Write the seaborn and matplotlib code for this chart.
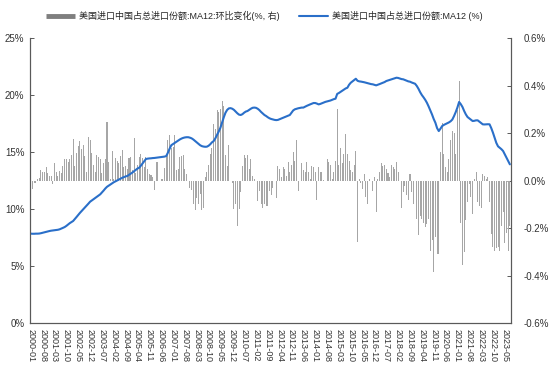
import numpy as np
import pandas as pd
import matplotlib
matplotlib.use('Agg')
import matplotlib.pyplot as plt
from matplotlib.lines import Line2D
import seaborn as sns

# monthly, 2000-01 .. 2023-08
months = pd.date_range('2000-01-01', periods=284, freq='MS').strftime('%Y-%m').tolist()

# China share of US imports, MA12 (%), left axis
share_ma12 = [
    7.84, 7.83, 7.83, 7.84, 7.84, 7.85, 7.88, 7.92, 7.96, 8.00, 8.03, 8.07,
    8.10, 8.12, 8.14, 8.16, 8.18, 8.22, 8.28, 8.35, 8.42, 8.52, 8.64, 8.76,
    8.86, 8.95, 9.12, 9.30, 9.48, 9.66, 9.82, 9.97, 10.14, 10.30, 10.47, 10.64,
    10.75, 10.86, 10.97, 11.08, 11.18, 11.29, 11.45, 11.62, 11.80, 11.95, 12.05, 12.15,
    12.25, 12.35, 12.43, 12.50, 12.58, 12.66, 12.74, 12.80, 12.86, 12.90, 13.00, 13.10,
    13.20, 13.32, 13.45, 13.55, 13.62, 13.80, 14.00, 14.20, 14.39, 14.42, 14.44, 14.45,
    14.47, 14.48, 14.50, 14.52, 14.54, 14.56, 14.58, 14.60, 14.65, 14.95, 15.30, 15.60,
    15.70, 15.80, 15.90, 16.00, 16.10, 16.18, 16.24, 16.28, 16.30, 16.30, 16.26, 16.20,
    16.10, 15.98, 15.85, 15.72, 15.60, 15.52, 15.48, 15.46, 15.47, 15.55, 15.68, 15.85,
    15.96, 16.20, 16.50, 16.80, 17.13, 17.60, 18.05, 18.45, 18.70, 18.83, 18.85, 18.80,
    18.70, 18.55, 18.40, 18.28, 18.25, 18.32, 18.45, 18.55, 18.60, 18.70, 18.80, 18.88,
    18.90, 18.88, 18.80, 18.68, 18.52, 18.38, 18.25, 18.16, 18.05, 17.96, 17.90, 17.86,
    17.82, 17.80, 17.82, 17.88, 17.94, 18.00, 18.06, 18.12, 18.18, 18.25, 18.45, 18.65,
    18.75, 18.80, 18.84, 18.87, 18.90, 18.90, 18.98, 19.05, 19.12, 19.18, 19.24, 19.30,
    19.30, 19.25, 19.18, 19.22, 19.28, 19.34, 19.40, 19.44, 19.47, 19.52, 19.58, 19.64,
    19.68, 20.10, 20.18, 20.28, 20.38, 20.48, 20.58, 20.64, 20.90, 21.08, 21.20, 21.32,
    21.43, 21.25, 21.20, 21.18, 21.15, 21.12, 21.08, 21.05, 21.00, 20.96, 20.94, 20.90,
    20.85, 20.90, 20.96, 21.02, 21.08, 21.14, 21.23, 21.28, 21.33, 21.38, 21.43, 21.48,
    21.52, 21.50, 21.45, 21.40, 21.38, 21.32, 21.26, 21.20, 21.17, 21.10, 21.05, 20.99,
    20.80, 20.55, 20.25, 20.00, 19.80, 19.58, 19.32, 19.00, 18.65, 18.30, 17.90, 17.57,
    17.10, 16.84, 17.05, 17.28, 17.38, 17.45, 17.52, 17.60, 17.70, 17.85, 18.15, 18.50,
    18.90, 19.39, 19.20, 18.95, 18.60, 18.30, 18.07, 17.95, 17.82, 17.72, 17.74, 17.78,
    17.78, 17.66, 17.54, 17.43, 17.42, 17.43, 17.44, 17.43, 17.10, 16.70, 16.25, 15.80,
    15.50, 15.38, 15.25, 15.09, 14.80, 14.50, 14.20, 13.92,
]

# month-on-month change of the MA12 share (%), right axis
mom_change = [
    -0.030, -0.035, -0.010, -0.010, 0.005, 0.010, 0.043, 0.038, 0.038, 0.055, 0.030, 0.020,
    0.020, -0.015, 0.073, 0.034, 0.020, 0.040, 0.032, 0.063, 0.090, 0.090, 0.076, 0.090,
    0.108, 0.174, 0.061, 0.115, 0.146, 0.166, 0.131, 0.148, 0.102, 0.034, 0.184, 0.172,
    0.114, 0.067, 0.034, 0.108, 0.100, 0.090, 0.032, 0.073, 0.092, 0.248, 0.076, 0.006,
    0.125, 0.008, 0.096, 0.084, 0.073, 0.102, 0.128, 0.055, 0.061, 0.049, 0.096, 0.100,
    0.043, 0.180, 0.032, 0.067, 0.100, 0.113, 0.096, 0.055, 0.100, 0.049, 0.026, 0.022,
    0.014, -0.039, 0.078, 0.076, -0.004, 0.006, 0.008, 0.053, 0.108, 0.172, 0.190, 0.137,
    0.143, 0.190, 0.043, 0.049, 0.100, 0.104, 0.108, 0.049, 0.026, -0.004, -0.033, -0.039,
    -0.097, -0.126, -0.074, -0.097, -0.056, -0.126, -0.115, 0.014, 0.034, 0.067, 0.113, 0.137,
    0.236, 0.219, 0.295, 0.289, 0.300, 0.336, 0.312, 0.108, 0.060, 0.149, 0.000, -0.009,
    -0.120, -0.097, -0.190, -0.120, -0.050, 0.061, 0.108, 0.096, 0.108, 0.049, 0.092, 0.018,
    0.008, -0.004, -0.085, -0.044, -0.097, -0.115, -0.097, -0.109, -0.109, -0.044, -0.062, -0.033,
    -0.004, -0.074, 0.061, 0.049, 0.014, 0.055, 0.049, 0.020, 0.076, 0.037, 0.067, 0.119,
    0.084, 0.172, -0.044, -0.004, 0.073, 0.043, 0.037, 0.078, 0.037, 0.008, 0.061, 0.055,
    0.037, -0.080, 0.055, 0.037, 0.037, 0.002, 0.000, 0.090, 0.076, 0.067, 0.008, 0.037,
    0.084, 0.300, 0.067, 0.135, 0.073, 0.113, 0.198, 0.113, 0.084, 0.043, 0.037, 0.067,
    0.123, -0.260, 0.006, -0.010, -0.035, 0.026, -0.068, -0.097, 0.006, -0.004, -0.044, 0.014,
    -0.132, 0.006, 0.037, 0.073, 0.061, 0.067, 0.049, 0.032, 0.014, 0.067, 0.055, 0.049,
    0.078, 0.034, 0.000, -0.115, -0.050, -0.021, -0.062, -0.080, 0.029, -0.050, -0.097, -0.004,
    -0.160, -0.230, -0.150, -0.161, -0.179, -0.196, -0.185, -0.161, -0.296, -0.249, -0.384, -0.237,
    -0.308, -0.308, 0.119, 0.242, 0.113, 0.055, 0.037, 0.090, 0.172, 0.207, 0.201, 0.113,
    0.295, 0.418, -0.180, -0.354, -0.300, -0.167, -0.091, -0.015, -0.068, -0.143, 0.008, 0.037,
    -0.091, -0.109, -0.115, 0.026, 0.020, 0.008, 0.014, -0.091, -0.225, -0.278, -0.296, -0.284,
    -0.278, -0.296, -0.190, -0.132, -0.261, -0.220, -0.296, -0.190,
]

left_ticks = [0, 5, 10, 15, 20, 25]
right_ticks = [-0.6, -0.4, -0.2, 0.0, 0.2, 0.4, 0.6]
label_bar = '美国进口中国占总进口份额:MA12:环比变化(%, 右)'
label_line = '美国进口中国占总进口份额:MA12 (%)'

sns.set_theme(style='white')
plt.rcParams['font.family'] = ['Liberation Sans', 'Noto Sans CJK SC', 'DejaVu Sans']
plt.rcParams['axes.unicode_minus'] = False

df = pd.DataFrame({'idx': np.arange(len(months)), 'share': share_ma12, 'chg': mom_change})

fig = plt.figure(figsize=(5.51, 3.73), dpi=100)
ax = fig.add_axes([0.0544, 0.134, 0.8725, 0.764])
ax2 = ax.twinx()

sns.barplot(data=df, x='idx', y='chg', color='#a6a6a6', saturation=1, width=0.6,
            errorbar=None, edgecolor='none', linewidth=0, ax=ax2)
sns.lineplot(data=df, x='idx', y='share', color='#2a6fc9', lw=1.5, ax=ax)

# line above the bars
ax.set_zorder(ax2.get_zorder() + 1)
ax.patch.set_visible(False)

n = len(months)
ax.set_xlim(-0.5, n - 0.5)
ax2.set_xlim(-0.5, n - 0.5)
ax.set_ylim(0, 25)
ax2.set_ylim(-0.6, 0.6)

ax.set_yticks(left_ticks)
ax.set_yticklabels([f'{v}%' for v in left_ticks])
ax2.set_yticks(right_ticks)
ax2.set_yticklabels([f'{v:.1f}%' for v in right_ticks])

pos = list(range(0, n, 7))
ax.set_xticks(pos)
ax.set_xticklabels([months[i] for i in pos], rotation=-90, fontsize=6.5, color='#333333')
ax.set_xticks([p - 0.5 for p in range(7, n, 7)], minor=True)
ax.tick_params(axis='x', which='major', length=0, pad=4)
ax.tick_params(axis='x', which='minor', length=2.5, width=0.7, color='#595959', direction='out')
ax2.tick_params(axis='x', which='both', length=0, labelbottom=False)

ax.tick_params(axis='y', direction='in', length=3, width=0.7, color='#595959',
               labelsize=7, labelcolor='#333333', pad=4)
ax2.tick_params(axis='y', direction='in', length=3, width=0.7, color='#595959',
                labelsize=7, labelcolor='#333333', pad=9)

for a in (ax, ax2):
    a.set_xlabel('')
    a.set_ylabel('')
    a.spines['top'].set_visible(False)
    for s in ('left', 'right', 'bottom'):
        a.spines[s].set_color('#595959')
        a.spines[s].set_linewidth(0.8)

handles = [Line2D([0], [0], color='#7f7f7f', lw=3.5, solid_capstyle='butt'),
           Line2D([0], [0], color='#2a6fc9', lw=1.5)]
fig.legend(handles, [label_bar, label_line], loc='center', ncol=2,
           bbox_to_anchor=(0.48, 0.957), frameon=False, fontsize=6.5,
           handlelength=3.2, columnspacing=2.2, handletextpad=0.4)

fig.savefig('out.png', dpi=100)
